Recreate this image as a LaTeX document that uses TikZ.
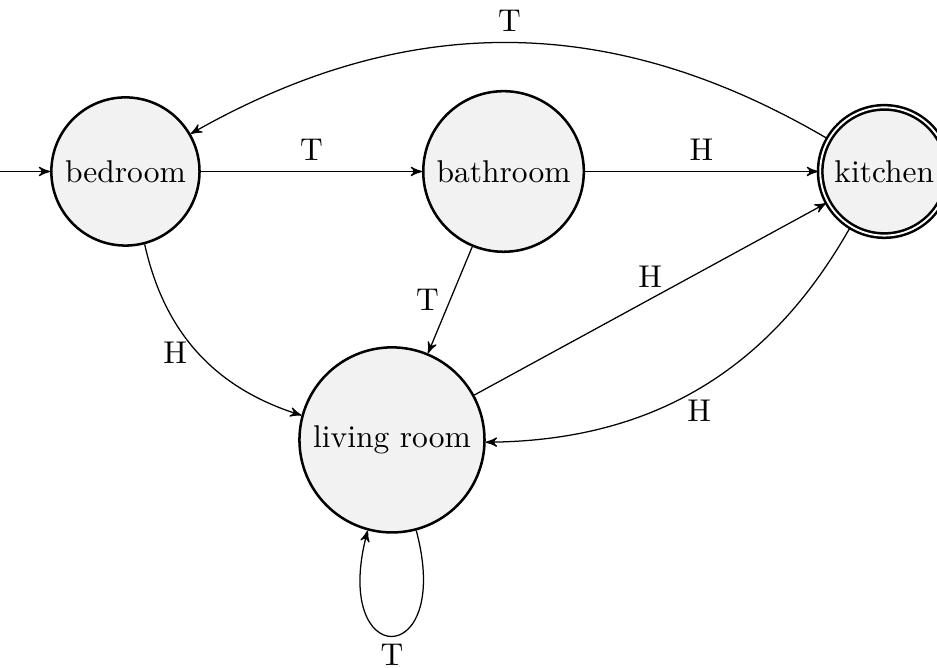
\documentclass[tikz,border=0pt]{standalone}
\usepackage{amsmath,amssymb,amsfonts}
\usepackage{xcolor}
\usepackage{tikz}
\usetikzlibrary{automata,arrows,positioning}

\begin{document}
\begin{tikzpicture}
            [>=stealth',every state/.style={draw, thick, fill=gray!10}]
            \useasboundingbox (0,0) rectangle (10.458,-7.455);
            \coordinate (start) at (0,-1.914);
            \node[state] (bed) at (1.40,-1.914) {bedroom};
            \node[state] (bath) at (5.62,-1.914) {bathroom};
            \node[state,accepting] (kit) at (9.87,-1.914) {kitchen};
            \node[state] (liv) at (4.375,-4.91) {living room};

            \path[->] (start) edge (bed)
                  (bed) edge node[above] {T} (bath)
                  (bath) edge node[above] {H} (kit)
                  (kit) edge[bend right] node[above] {T} (bed)
                  (bed) edge[bend right] node[left] {H} (liv)
                  (bath) edge node[left] {T} (liv)
                  (liv) edge node[above] {H} (kit)
                  (kit) edge[bend left] node[below] {H} (liv)
                  (liv) edge[loop below,looseness=7.7] node[below,inner sep=2.5pt] {T} (liv);
          \end{tikzpicture}
\end{document}
